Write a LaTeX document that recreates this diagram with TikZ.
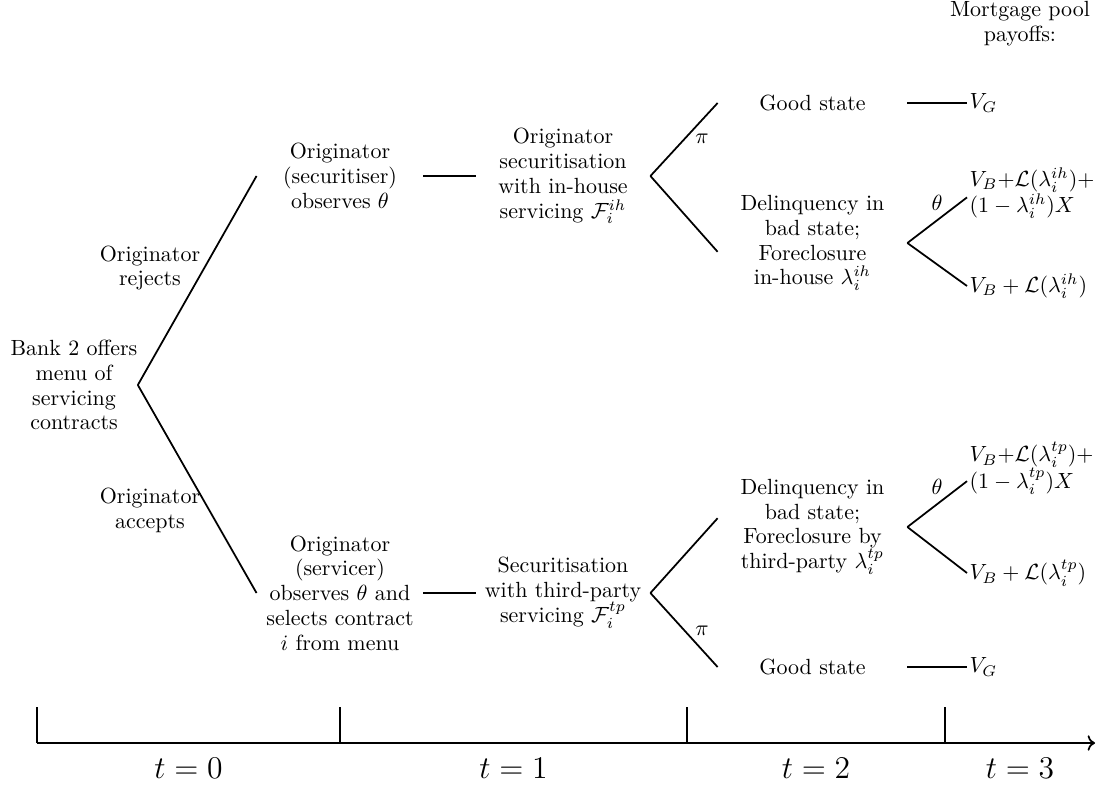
\documentclass[tikz,border=0pt]{standalone}
\usepackage{amsmath}
\usepackage{amssymb}
\usepackage{tikz}
\usetikzlibrary{positioning,arrows.meta}
\tikzset{
  % --- tree text -------------------------------------------------------------
  txt/.style={align=center,font=\linespread{0.94}\selectfont},
  offer/.style={txt,inner sep=0pt},
  choice/.style={txt,inner xsep=0pt,inner ysep=1pt,minimum width=75.6pt},
  deal/.style={txt,inner xsep=0pt,inner ysep=1pt,minimum width=79.2pt},
  outcome/.style={txt,inner xsep=0pt,inner ysep=1pt,minimum width=86pt},
  payoff/.style={anchor=west,align=left,inner sep=1pt},
  plab/.style={inner sep=1pt},
  edgelab/.style={txt,inner sep=0pt},
  % --- lines -----------------------------------------------------------------
  branch/.style={black,thick},
  timeline/.style={black,thick},
  period/.style={font=\Large},
}

\begin{document}
\begin{tikzpicture}[x=1.6cm, y=1.6cm]
  \useasboundingbox (0,0) rectangle (11.17,-7.84);
  % --- t = 0: the offer and the originator's choice ------------------------
  \node[offer]  (offer) at (0.74,-3.85) {Bank 2 offers\\menu of\\servicing\\contracts};
  \node[choice] (secz)  at (3.40,-1.76) {Originator\\(securitiser)\\observes $\theta$};
  \node[choice] (serv)  at (3.40,-5.93) {Originator\\(servicer)\\observes $\theta$ and\\selects contract\\$i$ from menu};
  \node[edgelab] (rej) at (1.50,-2.68) {Originator\\rejects};
  \node[edgelab] (acc) at (1.50,-5.10) {Originator\\accepts};

  \draw[branch] (offer.east) -- (secz.west);
  \draw[branch] (offer.east) -- (serv.west);

  % --- t = 1: the securitisation ----------------------------------------------
  \node[deal] (ownsec) at (5.63,-1.76) {Originator\\securitisation\\with in-house\\servicing $\mathcal{F}_i^{ih}$};
  \node[deal] (tpsec)  at (5.63,-5.93) {Securitisation\\with third-party\\servicing $\mathcal{F}_i^{tp}$};

  \draw[branch] (secz.east) -- (ownsec.west);
  \draw[branch] (serv.east) -- (tpsec.west);

  % --- t = 2: the state of the pool --------------------------------------------
  \node[outcome] (goodih) at (8.125,-1.03) {Good state};
  \node[outcome] (delih)  at (8.125,-2.43) {Delinquency in\\bad state;\\Foreclosure\\in-house $\lambda_i^{ih}$};
  \node[outcome] (deltp)  at (8.125,-5.27) {Delinquency in\\bad state;\\Foreclosure by\\third-party $\lambda_i^{tp}$};
  \node[outcome] (goodtp) at (8.125,-6.67) {Good state};

  \node[plab] (piih) at (7.02,-1.39) {$\pi$};
  \node[plab] (pitp) at (7.02,-6.31) {$\pi$};

  \draw[branch] (ownsec.east) -- (goodih.west);
  \draw[branch] (ownsec.east) -- ([yshift=-4pt]delih.west);
  \draw[branch] (tpsec.east) -- ([yshift=4pt]deltp.west);
  \draw[branch] (tpsec.east) -- (goodtp.west);

  % --- t = 3: the pool payoffs --------------------------------------------------
  \node[txt] (head) at (10.20,-0.24) {Mortgage pool\\payoffs:};

  \node[payoff] (vgih) at (9.67,-1.03) {$V_G$};
  \node[payoff] (xih)  at (9.67,-1.93) {$V_B{+}\mathcal{L}(\lambda_i^{ih}){+}$\\$(1-\lambda_i^{ih})X$};
  \node[payoff] (lih)  at (9.67,-2.86) {$V_B + \mathcal{L}(\lambda_i^{ih})$};
  \node[payoff] (xtp)  at (9.67,-4.68) {$V_B{+}\mathcal{L}(\lambda_i^{tp}){+}$\\$(1-\lambda_i^{tp})X$};
  \node[payoff] (ltp)  at (9.67,-5.73) {$V_B + \mathcal{L}(\lambda_i^{tp})$};
  \node[payoff] (vgtp) at (9.67,-6.67) {$V_G$};

  \node[plab] (thih) at (9.37,-2.03) {$\theta$};
  \node[plab] (thtp) at (9.37,-4.87) {$\theta$};

  \draw[branch] (goodih.east) -- (vgih.west);
  \draw[branch] (delih.east) -- ([yshift=-2pt]xih.west);
  \draw[branch] (delih.east) -- (lih.west);
  \draw[branch] (deltp.east) -- ([yshift=-6pt]xtp.west);
  \draw[branch] (deltp.east) -- (ltp.west);
  \draw[branch] (goodtp.east) -- (vgtp.west);

  % --- time line ----------------------------------------------------------------
  \coordinate (k0)   at (0.37,-7.43);
  \coordinate (k1)   at (3.40,-7.43);
  \coordinate (k2)   at (6.87,-7.43);
  \coordinate (k3)   at (9.45,-7.43);
  \coordinate (kend) at (10.95,-7.43);

  \draw[timeline,->] (k0) -- (kend);
  \draw[timeline] (k0) -- ++(0,0.36);
  \draw[timeline] (k1) -- ++(0,0.36);
  \draw[timeline] (k2) -- ++(0,0.36);
  \draw[timeline] (k3) -- ++(0,0.36);

  \node[period] (t0) at (1.885,-7.68) {$t=0$};
  \node[period] (t1) at (5.135,-7.68) {$t=1$};
  \node[period] (t2) at (8.16,-7.68)  {$t=2$};
  \node[period] (t3) at (10.20,-7.68) {$t=3$};
\end{tikzpicture}
\end{document}
